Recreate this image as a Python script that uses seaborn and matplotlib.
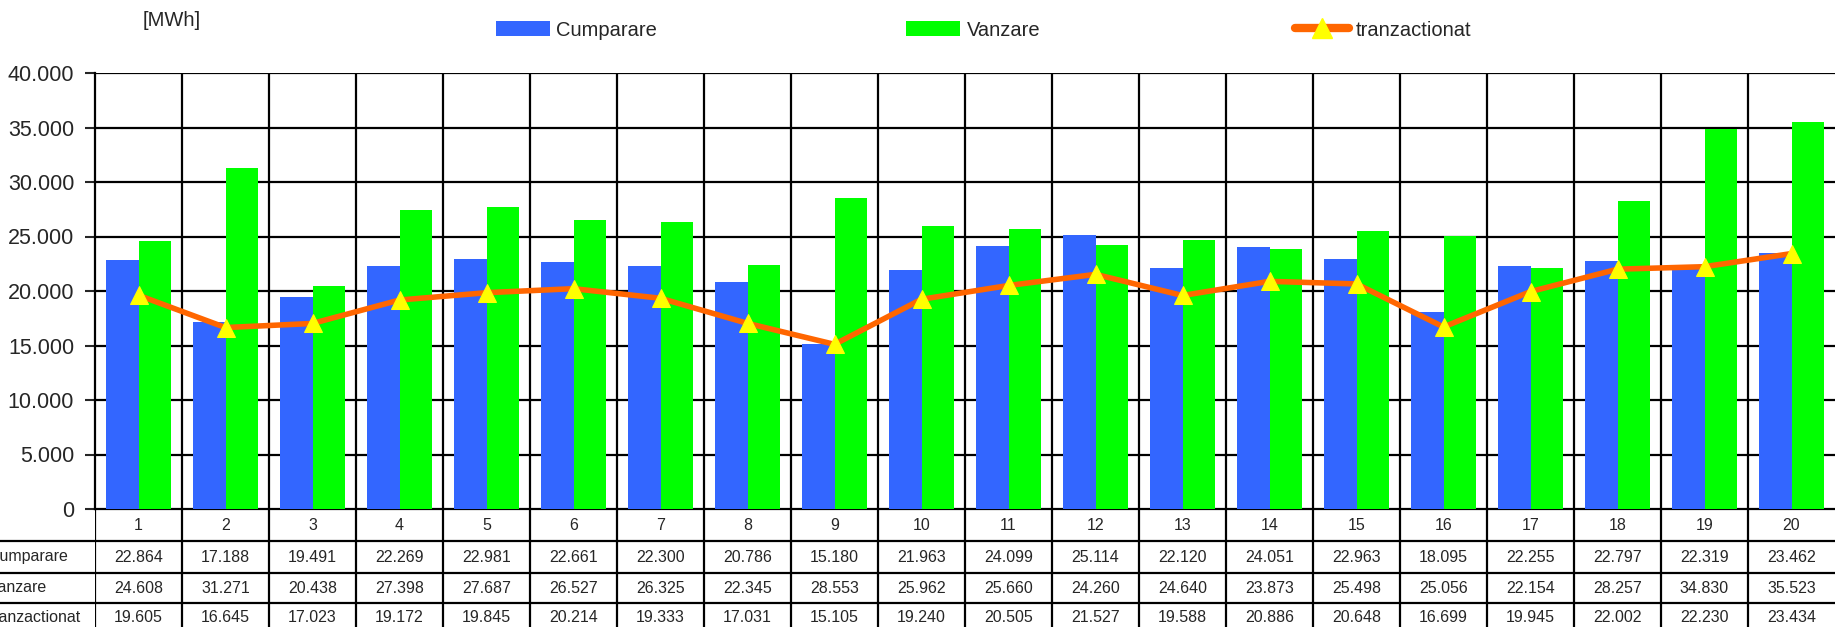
import numpy as np
import pandas as pd
import matplotlib
matplotlib.use("Agg")
import matplotlib.pyplot as plt
import seaborn as sns
from matplotlib.patches import Patch
from matplotlib.lines import Line2D
from matplotlib.ticker import FuncFormatter

sns.set_style("white")
plt.rcParams['font.family'] = ['Liberation Sans', 'DejaVu Sans']

hours = [str(i) for i in range(1, 21)]
cumparare = [22864, 17188, 19491, 22269, 22981, 22661, 22300, 20786, 15180, 21963,
             24099, 25114, 22120, 24051, 22963, 18095, 22255, 22797, 22319, 23462]
vanzare = [24608, 31271, 20438, 27398, 27687, 26527, 26325, 22345, 28553, 25962,
           25660, 24260, 24640, 23873, 25498, 25056, 22154, 28257, 34830, 35523]
tranzactionat = [19605, 16645, 17023, 19172, 19845, 20214, 19333, 17031, 15105, 19240,
                 20505, 21527, 19588, 20886, 20648, 16699, 19945, 22002, 22230, 23434]

BLUE = "#3366FF"
GREEN = "#00FF00"
ORANGE = "#FF6600"
YELLOW = "#FFFF00"

W, H = 1835, 627
fig = plt.figure(figsize=(W / 100, H / 100), dpi=100)

# pixel helpers
def fx(px):
    return px / W

def fy(py):
    return 1 - py / H

x_left, y_top, y_bot = 95, 73, 509
ax = fig.add_axes([fx(x_left), fy(y_bot), 1 - fx(x_left), fy(y_top) - fy(y_bot)])

df = pd.DataFrame({
    "ora": hours * 2,
    "val": cumparare + vanzare,
    "serie": ["Cumparare"] * 20 + ["Vanzare"] * 20,
})
sns.barplot(data=df, x="ora", y="val", hue="serie", palette=[BLUE, GREEN],
            width=0.74, linewidth=0, saturation=1, ax=ax, legend=False, zorder=3)
sns.lineplot(x=np.arange(20), y=tranzactionat, color=ORANGE, linewidth=4,
             marker="^", markersize=13, markerfacecolor=YELLOW,
             markeredgecolor=YELLOW, ax=ax, zorder=5)

ax.set_xlim(-0.5, 19.5)
ax.set_ylim(0, 40000)
ax.set_yticks(range(0, 40001, 5000))
ax.yaxis.set_major_formatter(FuncFormatter(
    lambda v, p: "0" if v == 0 else f"{int(v):,}".replace(",", ".")))
ax.tick_params(axis="y", labelsize=15.5, length=7, width=1.5, left=True, pad=8)
ax.set_xticks([])
ax.set_xlabel("")
ax.set_ylabel("")
for yv in range(5000, 40001, 5000):
    ax.axhline(yv, color="black", lw=1.6, zorder=2)
for xv in np.arange(0.5, 19.5, 1):
    ax.axvline(xv, color="black", lw=1.6, zorder=2)
for s in ["top", "right"]:
    ax.spines[s].set_visible(False)
ax.spines["left"].set_linewidth(1.6)
ax.spines["bottom"].set_linewidth(1.6)
ax.spines["left"].set_color("black")
ax.spines["bottom"].set_color("black")

# data table below the chart
tab = fig.add_axes([fx(x_left), 0, 1 - fx(x_left), fy(y_bot)])
tab.set_xlim(-0.5, 19.5)
tab.set_ylim(H, y_bot)
tab.axis("off")
for xv in np.arange(0.5, 19.5, 1):
    tab.plot([xv, xv], [y_bot, H], color="black", lw=1.6)
tab.plot([-0.5, -0.5], [y_bot, H], color="black", lw=1.6)
for i, h in enumerate(hours):
    tab.text(i, 525, h, ha="center", va="center", fontsize=11.5)
rows = [("Cumparare", cumparare, 557), ("Vanzare", vanzare, 588),
        ("Tranzactionat", tranzactionat, 617)]
for name, vals, yc in rows:
    for i, v in enumerate(vals):
        tab.text(i, yc, f"{v / 1000:.3f}", ha="center", va="center", fontsize=11.5)
for yl in [541, 573, 603]:
    fig.add_artist(Line2D([0, 1], [fy(yl), fy(yl)], color="black", lw=1.6))
# row labels run off the left edge, as in the original
fig.text(fx(-12), fy(557), "Cumparare", ha="left", va="center", fontsize=11.5)
fig.text(fx(-11), fy(588), "Vanzare", ha="left", va="center", fontsize=11.5)
fig.text(fx(-15), fy(617), "Tranzactionat", ha="left", va="center", fontsize=11.5)

fig.text(fx(143), fy(21), "[MWh]", ha="left", va="center", fontsize=14.5)

# legend entries placed individually
entries = [
    (Patch(facecolor=BLUE, edgecolor="none"), "Cumparare", 496),
    (Patch(facecolor=GREEN, edgecolor="none"), "Vanzare", 906),
    (Line2D([], [], color=ORANGE, lw=6, marker="^", markersize=15,
            markerfacecolor=YELLOW, markeredgecolor=YELLOW), "tranzactionat", 1295),
]
for handle, label, px in entries:
    fig.legend([handle], [label], loc="center left", bbox_to_anchor=(fx(px), fy(30)),
               frameon=False, fontsize=14.5, handlelength=2.7, handletextpad=0.3,
               borderaxespad=0, borderpad=0)

fig.savefig("out.png", dpi=100)
